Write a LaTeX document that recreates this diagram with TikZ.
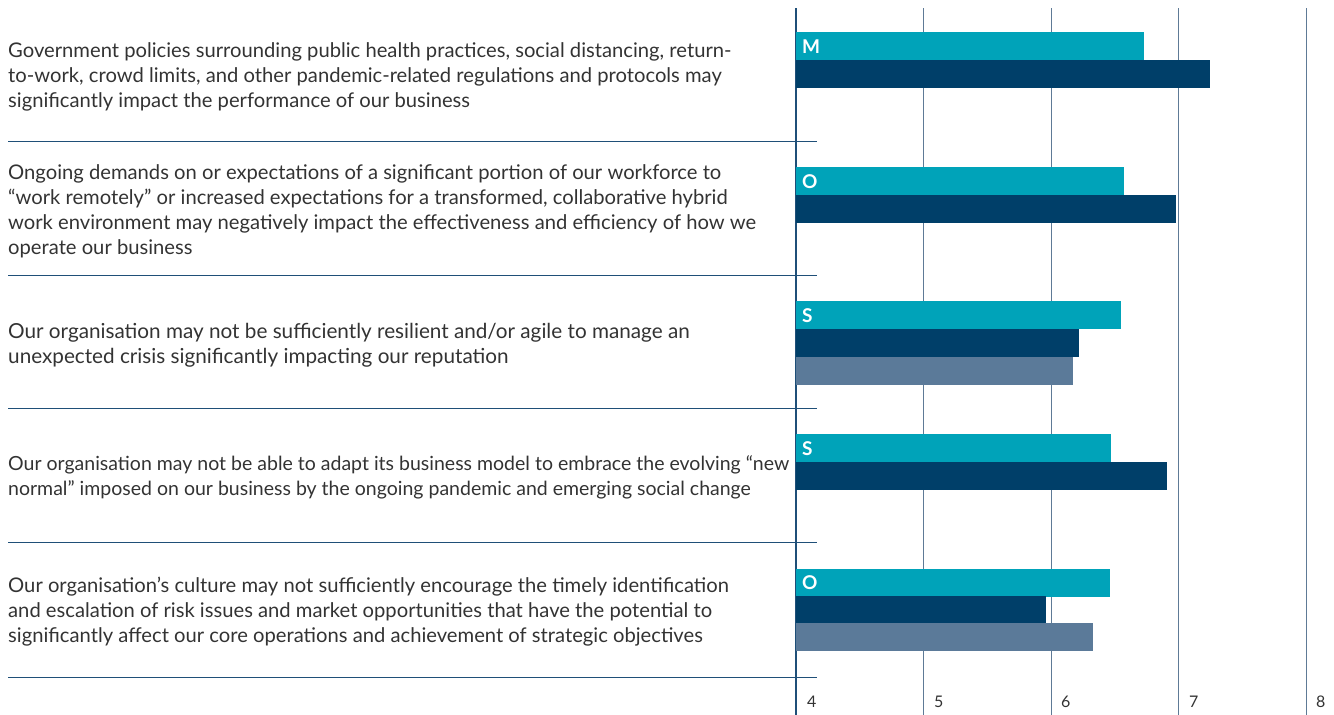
\documentclass[tikz,border=0pt]{standalone}
\usepackage{fontspec}
\setmainfont{Lato}
\usepackage{tikz}
\definecolor{teal}{HTML}{00A3B9}
\definecolor{navy}{HTML}{003F69}
\definecolor{slate}{HTML}{5B7A99}
\definecolor{ink}{HTML}{333333}
\definecolor{rule}{HTML}{1F4F78}
\definecolor{grid}{HTML}{5E7A96}
\tikzset{
  x=1pt, y=-1pt,
  risk/.style={anchor=west, align=left, inner sep=0pt, text=ink,
    font=\fontsize{#1}{25}\selectfont},
  risk/.default=20.2,
  tick/.style={anchor=base west, inner sep=0pt, text=ink,
    font=\fontsize{16}{16}\selectfont},
  tag/.style={anchor=west, inner sep=0pt, text=white,
    font=\bfseries\fontsize{19}{19}\selectfont},
  sep/.style={draw=rule, line width=1pt},
  gridline/.style={draw=grid, line width=0.9pt},
}
% bar from value #1 at top #2 in colour #3
\newcommand{\riskbar}[3]{\fill[#3] (796,#2) rectangle ({796+127.5*(#1-4)},#2+27.5);}

\begin{document}
\begin{tikzpicture}
		\useasboundingbox (0,0) rectangle (1334,715);

		% grid
		\foreach \v [count=\i] in {5,6,7,8}
			\draw[gridline] ({796+127.5*(\v-4)},8) -- ({796+127.5*(\v-4)},715);
		\draw[draw=rule, line width=1.1pt] (796,8) -- (796,715);

		% ticks
		\node[tick] (t4) at (807,707) {4};
		\node[tick] (t5) at (934,707) {5};
		\node[tick] (t6) at (1061,707) {6};
		\node[tick] (t7) at (1189,707) {7};
		\node[tick] (t8) at (1316,707) {8};

		% separators
		\foreach \y in {141,275,408,542,677}
			\draw[sep] (8,\y) -- (817,\y);

		% risks
		\node[risk] (r1) at (8,77) {Government policies surrounding public health practices, social distancing, return-\\to-work, crowd limits, and other pandemic-related regulations and protocols may\\significantly impact the performance of our business};
		\node[risk] (r2) at (8,211) {Ongoing demands on or expectations of a significant portion of our workforce to\\“work remotely” or increased expectations for a transformed, collaborative hybrid\\work environment may negatively impact the effectiveness and efficiency of how we\\operate our business};
		\node[risk=20.7] (r3) at (8,345) {Our organisation may not be sufficiently resilient and/or agile to manage an\\unexpected crisis significantly impacting our reputation};
		\node[risk=19.5] (r4) at (8,477) {Our organisation may not be able to adapt its business model to embrace the evolving “new\\normal” imposed on our business by the ongoing pandemic and emerging social change};
		\node[risk] (r5) at (8,612) {Our organisation’s culture may not sufficiently encourage the timely identification\\and escalation of risk issues and market opportunities that have the potential to\\significantly affect our core operations and achievement of strategic objectives};

		% bars
		\riskbar{6.73}{32}{teal}
		\riskbar{7.25}{60}{navy}
		\riskbar{6.57}{167}{teal}
		\riskbar{6.98}{195}{navy}
		\riskbar{6.55}{301}{teal}
		\riskbar{6.22}{329}{navy}
		\riskbar{6.17}{357}{slate}
		\riskbar{6.47}{434}{teal}
		\riskbar{6.91}{462}{navy}
		\riskbar{6.46}{569}{teal}
		\riskbar{5.96}{596}{navy}
		\riskbar{6.33}{623}{slate}

		% tags
		\node[tag] (m1) at (802,47) {M};
		\node[tag] (o2) at (802,182) {O};
		\node[tag] (s3) at (802,316) {S};
		\node[tag] (s4) at (802,449) {S};
		\node[tag] (o5) at (802,583) {O};

	\end{tikzpicture}
\end{document}
